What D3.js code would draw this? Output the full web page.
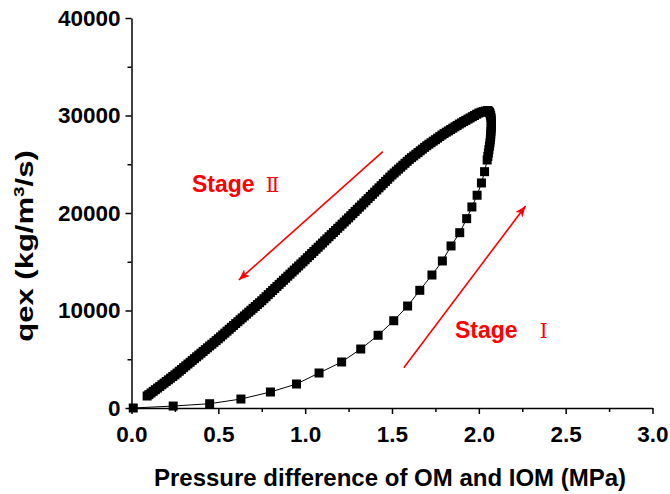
<!DOCTYPE html>
<html lang="en">
<head>
<meta charset="UTF-8">
<title>qex vs pressure difference</title>
<script src="https://cdnjs.cloudflare.com/ajax/libs/d3/7.8.5/d3.min.js"></script>
<style>
  body { margin: 0; background: #fff; }
  svg { display: block; font-family: "Liberation Sans", Arial, sans-serif; }
</style>
</head>
<body>
<div id="chart"></div>
<script>
// Stage I: rising branch, sparse markers that crowd together near the top
const stage1X = [0.01, 0.24, 0.45, 0.63, 0.80, 0.95, 1.08, 1.21, 1.32, 1.42,
                 1.51, 1.59, 1.66, 1.73, 1.79, 1.84, 1.89, 1.93, 1.96, 1.99,
                 2.015, 2.033, 2.048, 2.052, 2.055, 2.058, 2.061, 2.064, 2.066, 2.068,
                 2.069, 2.070, 2.071, 2.072, 2.072, 2.072, 2.071, 2.070, 2.068, 2.065,
                 2.062, 2.058, 2.054];
const stage1Y = [0, 200, 440, 920, 1640, 2460, 3590, 4720, 6050, 7460,
                 8950, 10460, 12070, 13640, 15080, 16620, 17980, 19420, 20620, 21820,
                 23080, 24240, 25440, 25800, 26150, 26500, 26850, 27180, 27500, 27800,
                 28100, 28380, 28650, 28900, 29150, 29380, 29600, 29800, 30000, 30160,
                 30300, 30400, 30470];

// Stage II: falling branch, dense markers (they overlap into a band)
const stage2X = [2.05, 2.0375, 2.025, 2.0125, 2.0, 1.9875, 1.975, 1.9625,
                 1.95, 1.9375, 1.925, 1.9125, 1.9, 1.8875, 1.875, 1.8625,
                 1.85, 1.8375, 1.825, 1.8125, 1.8, 1.7875, 1.775, 1.7625,
                 1.75, 1.7375, 1.725, 1.7125, 1.7, 1.6875, 1.675, 1.6625,
                 1.65, 1.6375, 1.625, 1.6125, 1.6, 1.5875, 1.575, 1.5625,
                 1.55, 1.5375, 1.525, 1.5125, 1.5, 1.4875, 1.475, 1.4625,
                 1.45, 1.4375, 1.425, 1.4125, 1.4, 1.3875, 1.375, 1.3625,
                 1.35, 1.3375, 1.325, 1.3125, 1.3, 1.2875, 1.275, 1.2625,
                 1.25, 1.2375, 1.225, 1.2125, 1.2, 1.1875, 1.175, 1.1625,
                 1.15, 1.1375, 1.125, 1.1125, 1.1, 1.0875, 1.075, 1.0625,
                 1.05, 1.0375, 1.025, 1.0125, 1.0, 0.9875, 0.975, 0.9625,
                 0.95, 0.9375, 0.925, 0.9125, 0.9, 0.8875, 0.875, 0.8625,
                 0.85, 0.8375, 0.825, 0.8125, 0.8, 0.7875, 0.775, 0.7625,
                 0.75, 0.7375, 0.725, 0.7125, 0.7, 0.6875, 0.675, 0.6625,
                 0.65, 0.6375, 0.625, 0.6125, 0.6, 0.5875, 0.575, 0.5625,
                 0.55, 0.5375, 0.525, 0.5125, 0.5, 0.4875, 0.475, 0.4625,
                 0.45, 0.4375, 0.425, 0.4125, 0.4, 0.3875, 0.375, 0.3625,
                 0.35, 0.3375, 0.325, 0.3125, 0.3, 0.2875, 0.275, 0.2625,
                 0.25, 0.2375, 0.225, 0.2125, 0.2, 0.1875, 0.175, 0.1625,
                 0.15, 0.1375, 0.125, 0.1125, 0.1, 0.09];
const stage2Y = [30500, 30460, 30400, 30330, 30250, 30130, 30000, 29880,
                 29750, 29630, 29500, 29380, 29250, 29120, 28980, 28840,
                 28700, 28560, 28420, 28290, 28150, 28000, 27840, 27680,
                 27520, 27370, 27210, 27060, 26900, 26730, 26550, 26380,
                 26200, 26030, 25850, 25680, 25500, 25300, 25100, 24900,
                 24700, 24500, 24300, 24100, 23900, 23680, 23460, 23240,
                 23020, 22800, 22580, 22360, 22140, 21920, 21700, 21480,
                 21260, 21040, 20820, 20600, 20380, 20160, 19940, 19720,
                 19500, 19290, 19070, 18860, 18640, 18430, 18210, 18000,
                 17780, 17570, 17350, 17140, 16920, 16710, 16490, 16280,
                 16060, 15850, 15630, 15420, 15200, 14990, 14780, 14570,
                 14360, 14150, 13940, 13730, 13520, 13310, 13100, 12890,
                 12680, 12470, 12260, 12050, 11840, 11630, 11420, 11210,
                 11000, 10800, 10610, 10410, 10220, 10020, 9830, 9630,
                 9440, 9240, 9050, 8850, 8660, 8460, 8270, 8070,
                 7880, 7680, 7490, 7290, 7100, 6910, 6730, 6540,
                 6360, 6170, 5990, 5800, 5620, 5430, 5250, 5060,
                 4880, 4690, 4510, 4320, 4140, 3950, 3770, 3580,
                 3400, 3230, 3060, 2890, 2720, 2550, 2385, 2210,
                 2045, 1880, 1710, 1540, 1370, 1230];

const xTicks = [0, 0.5, 1.0, 1.5, 2.0, 2.5, 3.0];
const xMinor = [0.25, 0.75, 1.25, 1.75, 2.25, 2.75];
const yTicks = [0, 10000, 20000, 30000, 40000];
const yMinor = [5000, 15000, 25000, 35000];

const width = 670, height = 494;
const margin = { top: 18, right: 17.5, bottom: 86, left: 131.5 };

const svg = d3.select("#chart").append("svg")
    .attr("width", width)
    .attr("height", height);

svg.append("rect").attr("width", width).attr("height", height).attr("fill", "#fff");

const xScale = d3.scaleLinear().domain([0, 3]).range([margin.left, width - margin.right]);
const yScale = d3.scaleLinear().domain([0, 40000]).range([height - margin.bottom, margin.top]);

// arrowhead
svg.append("defs").append("marker")
    .attr("id", "arrow")
    .attr("viewBox", "0 0 10 8")
    .attr("refX", 10).attr("refY", 4)
    .attr("markerUnits", "userSpaceOnUse")
    .attr("markerWidth", 11).attr("markerHeight", 9)
    .attr("orient", "auto")
    .append("path")
    .attr("d", "M0,0 L10,4 L0,8 L2.5,4 Z")
    .attr("fill", "#ff0000");

// axes
svg.append("g")
    .attr("transform", "translate(0," + yScale(0) + ")")
    .call(d3.axisBottom(xScale).tickValues(xTicks).tickFormat(d3.format(".1f"))
        .tickSize(6).tickSizeOuter(0).tickPadding(12));
svg.append("g")
    .attr("transform", "translate(0," + yScale(0) + ")")
    .call(d3.axisBottom(xScale).tickValues(xMinor).tickFormat("").tickSize(4).tickSizeOuter(0))
    .select(".domain").remove();

svg.append("g")
    .attr("transform", "translate(" + xScale(0) + ",0)")
    .call(d3.axisLeft(yScale).tickValues(yTicks).tickFormat(d3.format("d"))
        .tickSize(6).tickSizeOuter(0).tickPadding(5));
svg.append("g")
    .attr("transform", "translate(" + xScale(0) + ",0)")
    .call(d3.axisLeft(yScale).tickValues(yMinor).tickFormat("").tickSize(4).tickSizeOuter(0))
    .select(".domain").remove();

svg.selectAll(".domain, .tick line").attr("stroke", "#000").attr("stroke-width", 1.5);
svg.selectAll(".tick text")
    .attr("fill", "#000")
    .style("font-size", "22.5px")
    .style("font-weight", "bold");

// axis titles
svg.append("text")
    .attr("x", 390)
    .attr("y", 486)
    .attr("text-anchor", "middle")
    .style("font-size", "24px")
    .style("font-weight", "bold")
    .text("Pressure difference of OM and IOM (MPa)");

const yTitle = svg.append("text")
    .attr("transform", "translate(33,246) rotate(-90) scale(1.35,1)")
    .attr("text-anchor", "middle")
    .style("font-size", "23px")
    .style("font-weight", "bold");
yTitle.append("tspan").text("qex (kg/m");
yTitle.append("tspan").attr("dy", -9).style("font-size", "14px").text("3");
yTitle.append("tspan").attr("dy", 9).text("/s)");

// data: thin connecting line + square markers
const stage1 = d3.zip(stage1X, stage1Y);
const stage2 = d3.zip(stage2X, stage2Y);
const allPts = stage1.concat(stage2);

const line = d3.line().x(d => xScale(d[0])).y(d => yScale(d[1]));
svg.append("path")
    .datum(allPts)
    .attr("d", line)
    .attr("fill", "none")
    .attr("stroke", "#000")
    .attr("stroke-width", 1);

const size = 9;
svg.selectAll("rect.pt")
    .data(allPts)
    .enter()
    .append("rect")
    .attr("class", "pt")
    .attr("x", d => xScale(d[0]) - size / 2)
    .attr("y", d => yScale(d[1]) - size / 2)
    .attr("width", size)
    .attr("height", size)
    .attr("fill", "#000");

// annotations
svg.append("line")
    .attr("x1", xScale(1.447)).attr("y1", yScale(26290))
    .attr("x2", xScale(0.618)).attr("y2", yScale(13130))
    .attr("stroke", "#ff0000").attr("stroke-width", 1.6)
    .attr("marker-end", "url(#arrow)");
svg.append("line")
    .attr("x1", xScale(1.568)).attr("y1", yScale(4130))
    .attr("x2", xScale(2.269)).attr("y2", yScale(20720))
    .attr("stroke", "#ff0000").attr("stroke-width", 1.6)
    .attr("marker-end", "url(#arrow)");

function stageLabel(x, y, numeral, gap) {
    const t = svg.append("text")
        .attr("x", x).attr("y", y)
        .attr("fill", "#ff0000");
    t.append("tspan").style("font-size", "23px").style("font-weight", "bold").text("Stage");
    t.append("tspan").attr("dx", gap)
        .style("font-family", "'DejaVu Serif', serif")
        .style("font-size", "20px")
        .text(numeral);
}
stageLabel(192, 192, "Ⅱ", 11);
stageLabel(455, 338, "Ⅰ", 22);
</script>
</body>
</html>
